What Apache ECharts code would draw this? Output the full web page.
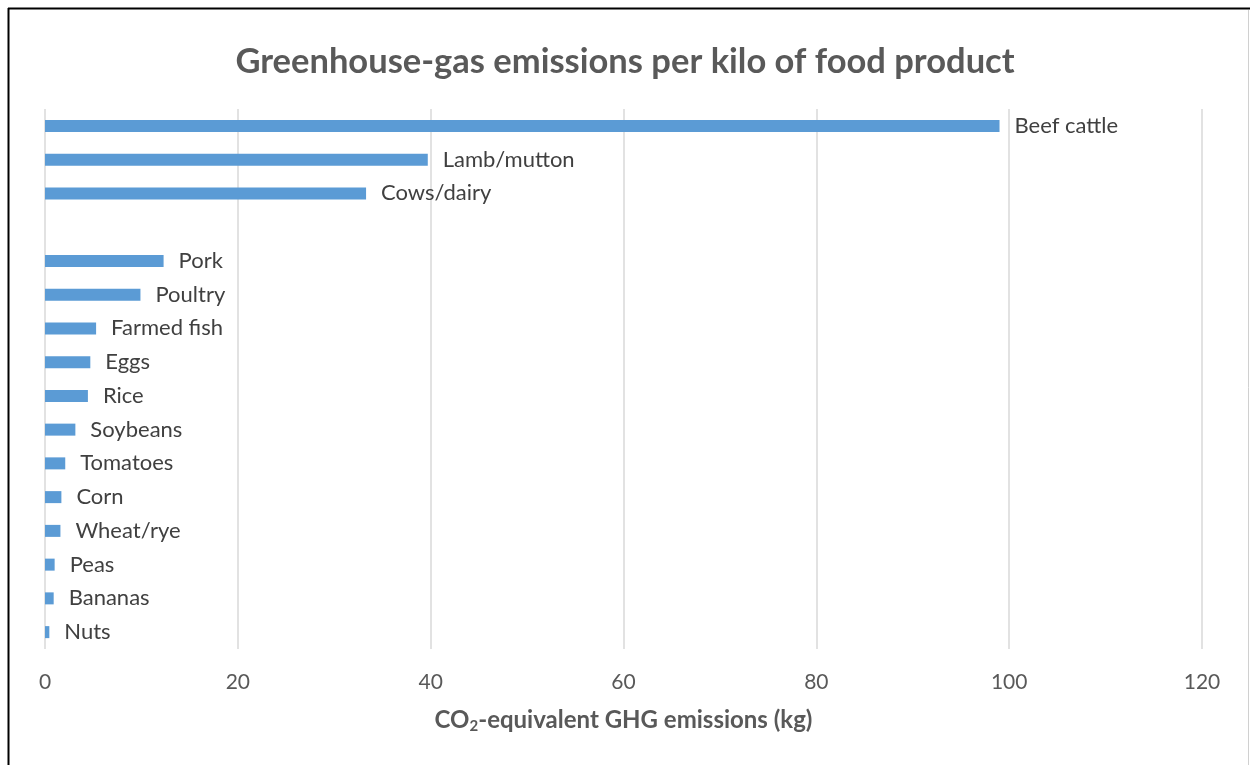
<!DOCTYPE html>
<html>
<head>
<meta charset="utf-8">
<script src="https://cdn.jsdelivr.net/npm/echarts@6/dist/echarts.min.js"></script>
<style>
html,body{margin:0;padding:0;background:#fff;}
#chart{width:1250px;height:765px;}
</style>
</head>
<body>
<div id="chart"></div>
<script>
const categories = ['Beef cattle','Lamb/mutton','Cows/dairy','','Pork','Poultry','Farmed fish','Eggs','Rice','Soybeans','Tomatoes','Corn','Wheat/rye','Peas','Bananas','Nuts'];
const emissions = [99.0, 39.7, 33.3, null, 12.3, 9.9, 5.3, 4.7, 4.45, 3.15, 2.1, 1.7, 1.6, 1.0, 0.9, 0.45];
const xTicks = [0, 20, 40, 60, 80, 100, 120];

const FONT = 'Lato, "Open Sans", sans-serif';
const chart = echarts.init(document.getElementById('chart'), null, {renderer: 'canvas'});
chart.setOption({
  backgroundColor: '#ffffff',
  animation: false,
  title: {
    text: 'Greenhouse-gas emissions per kilo of food product',
    left: 'center',
    top: 39,
    textStyle: {fontFamily: FONT, fontSize: 34.5, fontWeight: 'bold', color: '#595959'}
  },
  grid: {left: 45, right: 48, top: 109, bottom: 116, containLabel: false},
  xAxis: {
    type: 'value',
    min: xTicks[0],
    max: xTicks[xTicks.length - 1],
    interval: 20,
    axisLine: {show: false},
    axisTick: {show: false},
    splitLine: {show: true, lineStyle: {color: '#d9d9d9', width: 1.5}},
    axisLabel: {fontFamily: FONT, fontSize: 21, color: '#595959', margin: 23},
    name: '{b|CO}{s|2}{b|-equivalent GHG emissions (kg)}',
    nameLocation: 'middle',
    nameGap: 58,
    nameTextStyle: {
      rich: {
        b: {fontFamily: FONT, fontSize: 24, fontWeight: 'bold', color: '#595959'},
        s: {fontFamily: FONT, fontSize: 15, fontWeight: 'bold', color: '#595959', verticalAlign: 'bottom', padding: [12, 0, 0, 0]}
      }
    }
  },
  yAxis: {
    type: 'category',
    data: categories,
    inverse: true,
    show: false
  },
  series: [{
    type: 'bar',
    data: emissions,
    barWidth: 12,
    itemStyle: {color: '#5b9bd5'},
    label: {
      show: true,
      position: 'right',
      distance: 15,
      formatter: '{b}',
      fontFamily: FONT,
      fontSize: 22,
      color: '#404040'
    }
  }],
  graphic: [
    {type: 'line', shape: {x1: 8, y1: 8.5, x2: 1250, y2: 8.5}, style: {stroke: '#000', lineWidth: 2}},
    {type: 'line', shape: {x1: 8.5, y1: 8, x2: 8.5, y2: 765}, style: {stroke: '#000', lineWidth: 2}},
    {type: 'line', shape: {x1: 1248.5, y1: 10, x2: 1248.5, y2: 765}, style: {stroke: '#d0d0d0', lineWidth: 1}}
  ]
});
</script>
</body>
</html>
